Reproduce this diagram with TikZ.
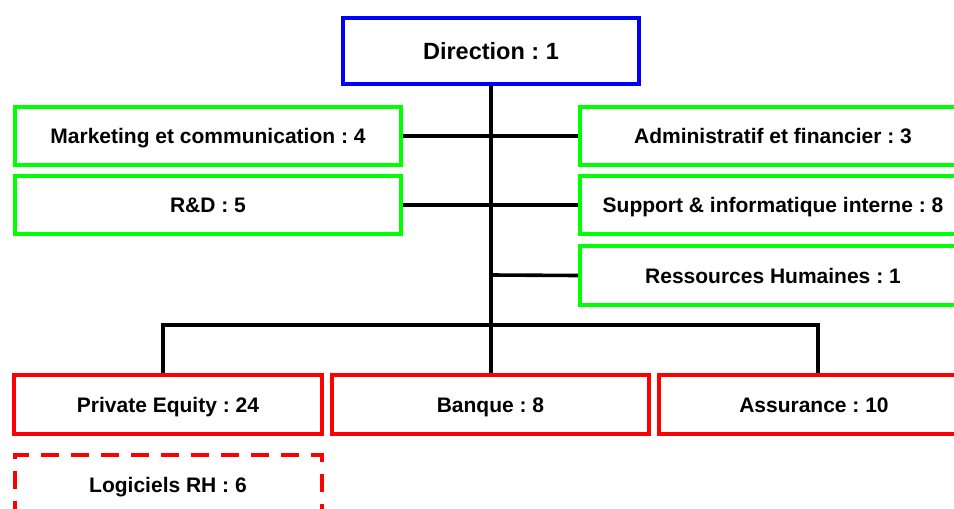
\documentclass[tikz,border=0pt]{standalone}
\usepackage{fontspec}
\setmainfont{Liberation Sans}
\definecolor{boxblue}{RGB}{0,0,255}
\definecolor{boxgreen}{RGB}{0,255,0}
\definecolor{boxred}{RGB}{255,0,0}
\begin{document}
\frenchspacing
\begin{tikzpicture}[x=1pt,y=-1pt,
  unit/.style={draw, rectangle, line width=4pt, fill=white, inner sep=0pt,
    font=\bfseries\fontsize{21}{25}\selectfont, text=black,
    text height=15pt, text depth=0pt},
  head/.style={unit, draw=boxblue, font=\bfseries\fontsize{23.5}{28}\selectfont,
    text height=17pt},
  support/.style={unit, draw=boxgreen, minimum width=386pt, minimum height=58pt},
  business/.style={unit, draw=boxred, minimum height=59pt},
  planned/.style={unit, draw=boxred, dash pattern=on 18pt off 12pt},
  link/.style={draw=black, line width=3.6pt, line join=miter}]
\clip (0,0) rectangle (954,509);
\fill[white] (0,0) rectangle (954,509);

% connector anchor points
\coordinate (rhjoin) at (491,275);
\coordinate (busL) at (163,325);
\coordinate (busR) at (818,325);
\coordinate (busC) at (491,325);

% top of the chart
\node[head, minimum width=296pt, minimum height=66pt] (dir) at (491,51) {Direction : 1};

% support departments
\node[support] (mkt) at (208,136) {Marketing et communication : 4};
\node[support] (rd)  at (208,205) {R\&D : 5};
\node[support] (adm) at (773,136) {Administratif et financier : 3};
\node[support] (it)  at (773,205) {Support \& informatique interne : 8};
\node[support, minimum height=59pt] (rh) at (773,275.5) {Ressources Humaines : 1};

% business lines
\node[business, minimum width=308pt] (pe)  at (168,404.5) {Private Equity : 24};
\node[business, minimum width=317pt] (bq)  at (490.5,404.5) {Banque : 8};
\node[business, minimum width=310pt] (ass) at (814,404.5) {Assurance : 10};

% planned unit
\node[planned, minimum width=307pt, minimum height=60pt] (log) at (168,485) {Logiciels RH : 6};

% connectors
\path[link] (dir.south -| busC) -- (bq.north -| busC);
\path[link] (mkt.east) -- (adm.west);
\path[link] (rd.east) -- (it.west);
\path[link] (rhjoin) -- (rh.west);
\path[link] (pe.north -| busL) -- (busL) -- (busR) -- (ass.north -| busR);
\end{tikzpicture}
\end{document}
